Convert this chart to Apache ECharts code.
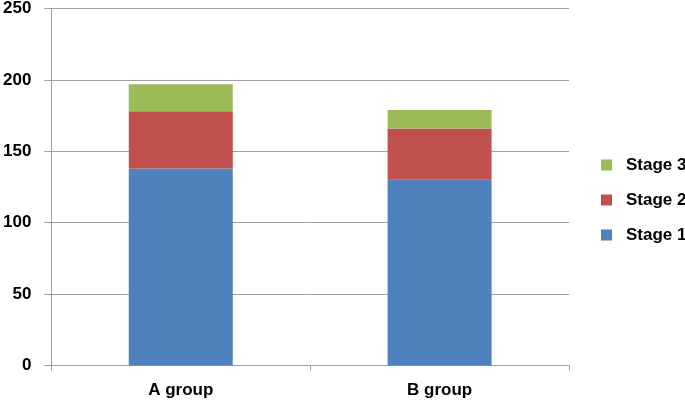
<!DOCTYPE html>
<html>
<head>
<meta charset="utf-8">
<script src="https://cdn.jsdelivr.net/npm/echarts@6/dist/echarts.min.js"></script>
<style>html,body{margin:0;padding:0;background:#fff}#c{width:685px;height:401px}</style>
</head>
<body>
<div id="c"></div>
<script>
const categories = ['A group', 'B group'];
const stage1 = [138, 130];
const stage2 = [40, 36];
const stage3 = [19, 13];
const yTicks = [0, 50, 100, 150, 200, 250];

const font = 'Liberation Sans, Arial, sans-serif';
const chart = echarts.init(document.getElementById('c'), null, {renderer: 'canvas'});
chart.setOption({
  animation: false,
  backgroundColor: '#ffffff',
  grid: {left: 48, right: 116, top: 6.5, bottom: 35.5, containLabel: false},
  legend: {
    orient: 'vertical', left: 601, top: 155, padding: 0,
    itemWidth: 11, itemHeight: 11, itemGap: 15,
    icon: 'rect',
    data: ['Stage 3', 'Stage 2', 'Stage 1'],
    textStyle: {fontFamily: font, fontWeight: 'bold', fontSize: 17, color: '#000', lineHeight: 20, padding: [0, 0, 0, 9]}
  },
  xAxis: {
    type: 'category', data: categories,
    axisLine: {lineStyle: {color: '#a0a0a0', width: 1}},
    axisTick: {show: true, length: 5, lineStyle: {color: '#a0a0a0'}},
    axisLabel: {margin: 16, fontFamily: font, fontWeight: 'bold', fontSize: 17, color: '#000'}
  },
  yAxis: {
    type: 'value', min: yTicks[0], max: yTicks[yTicks.length - 1], interval: 50,
    axisLine: {show: true, lineStyle: {color: '#a0a0a0', width: 1}},
    axisTick: {show: true, length: 7, lineStyle: {color: '#a0a0a0'}},
    splitLine: {show: true, lineStyle: {color: '#a0a0a0', width: 1}},
    axisLabel: {margin: 20, fontFamily: font, fontWeight: 'bold', fontSize: 17, color: '#000'}
  },
  series: [
    {name: 'Stage 1', type: 'bar', stack: 's', data: stage1, barWidth: 104, itemStyle: {color: '#4f81bd'}},
    {name: 'Stage 2', type: 'bar', stack: 's', data: stage2, barWidth: 104, itemStyle: {color: '#c0504d'}},
    {name: 'Stage 3', type: 'bar', stack: 's', data: stage3, barWidth: 104, itemStyle: {color: '#9bbb59'}}
  ]
});
</script>
</body>
</html>
